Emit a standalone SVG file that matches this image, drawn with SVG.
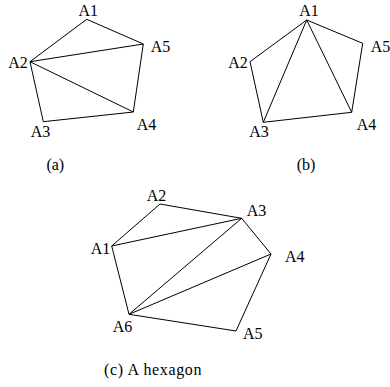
<svg xmlns="http://www.w3.org/2000/svg" width="390" height="387" viewBox="0 0 390 387">
<style>
.e{stroke:#000;stroke-width:1;fill:none;stroke-linejoin:miter}
.t{font-family:'Liberation Serif','Times New Roman',Times,serif;font-size:16px;fill:#000}
</style>
<rect width="390" height="387" fill="#fff"/>
<g id="connectors">
<g id="edges-a" class="e">
<polygon points="86.7,19.3 143.3,44 133.3,112 43.3,121.7 30,61.7"/>
<line x1="30" y1="61.7" x2="143.3" y2="44"/>
<line x1="30" y1="61.7" x2="133.3" y2="112"/>
</g>
<g id="edges-b" class="e">
<polygon points="306.7,20 362.7,43.3 351.7,112.3 263.3,122.3 250,61.7"/>
<line x1="306.7" y1="20" x2="263.3" y2="122.3"/>
<line x1="306.7" y1="20" x2="351.7" y2="112.3"/>
</g>
<g id="edges-c" class="e">
<polygon points="111.7,246 160,204 241.7,218.3 271,254 236,331 129,314.3"/>
<line x1="111.7" y1="246" x2="241.7" y2="218.3"/>
<line x1="129" y1="314.3" x2="241.7" y2="218.3"/>
<line x1="129" y1="314.3" x2="271" y2="254"/>
</g>
</g>
<g id="a-A1"><text class="t" x="78.5" y="16">A1</text></g>
<g id="a-A2"><text class="t" x="8.3" y="68">A2</text></g>
<g id="a-A3"><text class="t" x="30.7" y="136.5">A3</text></g>
<g id="a-A4"><text class="t" x="136.7" y="130">A4</text></g>
<g id="a-A5"><text class="t" x="150.7" y="51.5">A5</text></g>
<g id="cap-a"><text class="t" x="55.3" y="170" text-anchor="middle">(a)</text></g>
<g id="b-A1"><text class="t" x="299.3" y="16">A1</text></g>
<g id="b-A2"><text class="t" x="228.3" y="68">A2</text></g>
<g id="b-A3"><text class="t" x="249.3" y="137">A3</text></g>
<g id="b-A4"><text class="t" x="356.7" y="130">A4</text></g>
<g id="b-A5"><text class="t" x="370.7" y="51.5">A5</text></g>
<g id="cap-b"><text class="t" x="306" y="170" text-anchor="middle">(b)</text></g>
<g id="c-A1"><text class="t" x="90.7" y="254">A1</text></g>
<g id="c-A2"><text class="t" x="146.7" y="200.7">A2</text></g>
<g id="c-A3"><text class="t" x="246.7" y="216">A3</text></g>
<g id="c-A4"><text class="t" x="285" y="261.7">A4</text></g>
<g id="c-A5"><text class="t" x="243" y="339.3">A5</text></g>
<g id="c-A6"><text class="t" x="112.7" y="331.7">A6</text></g>
<g id="cap-c"><text class="t" x="104" y="375" textLength="97.5" lengthAdjust="spacing">(c) A hexagon</text></g>
</svg>
